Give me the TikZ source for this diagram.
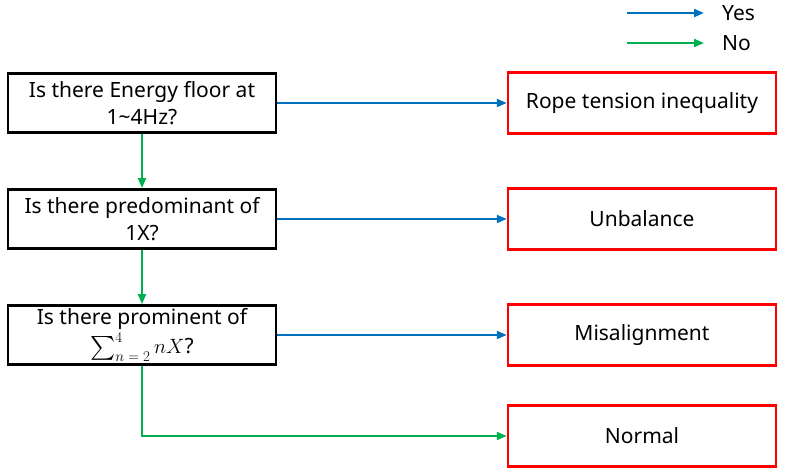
\documentclass[tikz,border=0pt]{standalone}
\usepackage{amsmath}
\usepackage{fontspec}
\setmainfont{Noto Sans}
\usetikzlibrary{arrows.meta,positioning}
\definecolor{yesblue}{HTML}{0070C0}
\definecolor{nogreen}{HTML}{00B050}
\definecolor{resultred}{HTML}{FF0000}
\newcommand{\bigsum}{\mathop{\raisebox{-1pt}{\scalebox{1.15}{$\textstyle\sum$}}}\nolimits}
\newcommand{\sumlimit}[1]{\scalebox{0.72}{$#1$}}

\begin{document}
\begin{tikzpicture}[x=1pt,y=1pt, font=\fontsize{21}{27}\selectfont,
  question/.style={draw=black, line width=2.8pt, minimum width=268pt, minimum height=59pt, align=center, inner sep=1pt},
  result/.style={draw=resultred, line width=2.4pt, minimum width=268pt, minimum height=61pt, align=center},
  yes/.style={draw=yesblue, line width=2pt, -{Triangle[length=10pt,width=8pt]}},
  no/.style={draw=nogreen, line width=2pt, -{Triangle[length=10pt,width=8pt]}}]
\useasboundingbox (0,0) rectangle (785,476);
% questions on the left
\node[question] (q1) at (142,373) {Is there Energy floor at\\1\textasciitilde4Hz?};
\node[question] (q2) at (142,257) {Is there predominant of\\1X?};
\node[question] (q3) at (142,141) {Is there prominent of\\[2pt]$\bigsum_{\sumlimit{n=2}}^{\sumlimit{4}} nX$?};
% results on the right
\node[result] (r1) at (642,373) {Rope tension inequality};
\node[result] (r2) at (642,257) {Unbalance};
\node[result] (r3) at (642,141) {Misalignment};
\node[result] (r4) at (642,40) {Normal};
% connectors
\draw[yes] (q1) -- (r1);
\draw[yes] (q2) -- (r2);
\draw[yes] (q3) -- (r3);
\draw[no] (q1) -- (q2);
\draw[no] (q2) -- (q3);
\draw[no] (q3) |- (r4);
% legend
\coordinate (yesstart) at (627,463);
\coordinate (yesend) at (704,463);
\coordinate (nostart) at (627,433);
\coordinate (noend) at (704,433);
\draw[yes] (yesstart) -- (yesend);
\draw[no] (nostart) -- (noend);
\node[anchor=west, inner sep=0pt] (yeslabel) at (722,463) {Yes};
\node[anchor=west, inner sep=0pt] (nolabel) at (722,433) {No};
\end{tikzpicture}
\end{document}
